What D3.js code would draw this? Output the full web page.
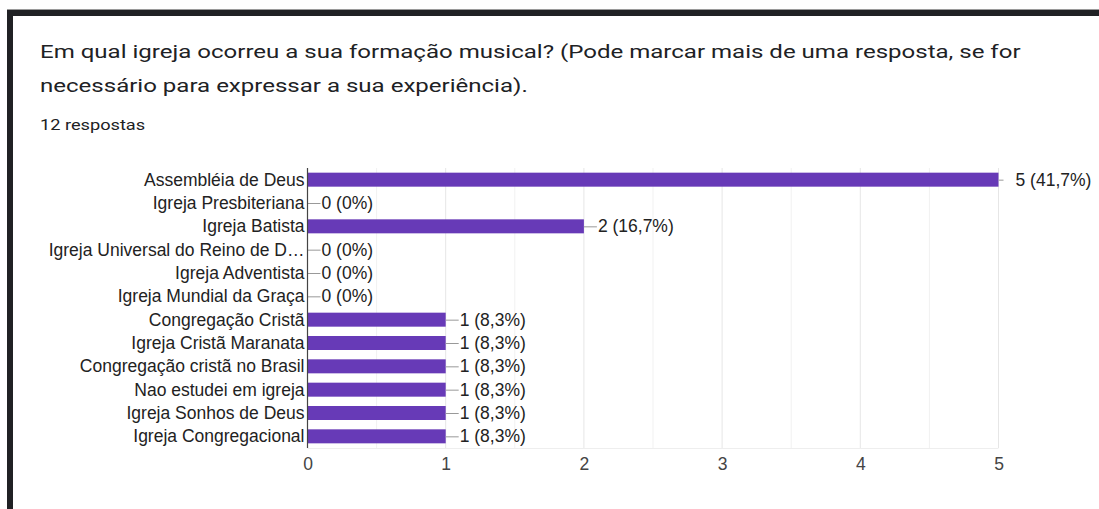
<!DOCTYPE html>
<html><head><meta charset="utf-8">
<script src="https://cdn.jsdelivr.net/npm/d3@7"></script>
<style>body{margin:0;background:#fff;}svg{display:block;}</style>
</head><body>
<svg id="c" width="1099" height="509"></svg>
<script>
const categories = ["Assembléia de Deus","Igreja Presbiteriana","Igreja Batista","Igreja Universal do Reino de D…","Igreja Adventista","Igreja Mundial da Graça","Congregação Cristã","Igreja Cristã Maranata","Congregação cristã no Brasil","Nao estudei em igreja","Igreja Sonhos de Deus","Igreja Congregacional"];
const counts = [5,0,2,0,0,0,1,1,1,1,1,1];
const percents = ["41,7%","0%","16,7%","0%","0%","0%","8,3%","8,3%","8,3%","8,3%","8,3%","8,3%"];
const xTicks = [0,1,2,3,4,5];
const title1 = "Em qual igreja ocorreu a sua formação musical? (Pode marcar mais de uma resposta, se for";
const title2 = "necessário para expressar a sua experiência).";
const subtitle = "12 respostas";

const svg = d3.select("#c");
// frame
svg.append("rect").attr("x",7).attr("y",9).attr("width",1092).attr("height",1).attr("fill","#9a9a9a");
svg.append("rect").attr("x",7).attr("y",10).attr("width",1092).attr("height",6).attr("fill","#202124");
svg.append("rect").attr("x",7).attr("y",10).attr("width",6).attr("height",499).attr("fill","#202124");

function stretched(tx, ty, size, txt){
  svg.append("g").attr("transform",`translate(${tx},${ty}) scale(1.3,1)`)
    .append("text").attr("x",0).attr("y",0).attr("font-family","Roboto").attr("font-size",size).attr("fill","#202124").text(txt);
}
stretched(40,58,18.5,title1);
stretched(40,92,18.5,title2);
stretched(40,130,14,subtitle);

const FONT = "'Liberation Sans', Arial, sans-serif";
const FS = 17.5;
const x = d3.scaleLinear().domain([0,5]).range([307.5,998.5]);
const y = d3.scaleBand().domain(categories).range([168,448]).paddingInner(0.4).paddingOuter(0.2);

const g = svg.append("g");
// gridlines
const grid = d3.range(0,5.01,0.5);
g.selectAll("line.grid").data(grid).enter().append("line")
  .attr("x1",d=>x(d)).attr("x2",d=>x(d)).attr("y1",168).attr("y2",448)
  .attr("stroke",d=>Number.isInteger(d)?"#e6e6e6":"#f1f1f1").attr("stroke-width",1);
g.append("line").attr("x1",307.5).attr("x2",998.5).attr("y1",448.5).attr("y2",448.5).attr("stroke","#eeeeee");

g.selectAll("rect.bar").data(counts).enter().append("rect")
  .attr("x",x(0)).attr("y",(d,i)=>y(categories[i]))
  .attr("width",d=>x(d)-x(0)).attr("height",y.bandwidth())
  .attr("fill","#673ab7");

// value labels with leader lines
counts.forEach((d,i)=>{
  const cy = y(categories[i]) + y.bandwidth()/2;
  const x0 = x(d);
  const lineLen = d===5 ? 5 : 13;
  g.append("line").attr("x1",x0).attr("x2",x0+lineLen).attr("y1",cy+0.5).attr("y2",cy+0.5).attr("stroke","#999").attr("stroke-width",1);
  g.append("text").attr("x", d===5 ? x0+17 : x0+lineLen+1).attr("y",cy+6)
    .attr("font-family",FONT).attr("font-size",FS).attr("fill","#222")
    .text(d+" ("+percents[i]+")");
});

// y axis labels
const yAxis = d3.axisLeft(y).tickSize(0).tickPadding(3);
const ya = svg.append("g").attr("transform","translate(307.5,0)").call(yAxis);
ya.select(".domain").remove();
ya.selectAll("text").attr("font-family",FONT).attr("font-size",FS).attr("fill","#222").attr("dy","0.35em");
svg.append("line").attr("x1",307.5).attr("x2",307.5).attr("y1",168).attr("y2",448).attr("stroke","#444").attr("stroke-width",1.2);

// x axis
const xAxis = d3.axisBottom(x).tickValues(xTicks).tickSize(0).tickPadding(10).tickFormat(d3.format("d"));
const xa = svg.append("g").attr("transform","translate(0,448)").call(xAxis);
xa.select(".domain").remove();
xa.selectAll("text").attr("font-family",FONT).attr("font-size",FS).attr("fill","#444");
</script>
</body></html>
